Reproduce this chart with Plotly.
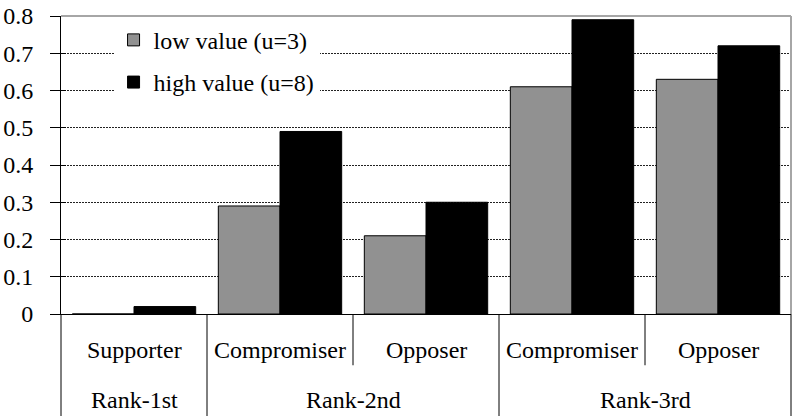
import plotly.graph_objects as go

outer = ["Rank-1st", "Rank-2nd", "Rank-2nd", "Rank-3rd", "Rank-3rd"]
inner = ["Supporter", "Compromiser", "Opposer", "Compromiser", "Opposer"]
low_vals = [0.0, 0.29, 0.21, 0.61, 0.63]
high_vals = [0.02, 0.49, 0.30, 0.79, 0.72]
series_names = ["low value (u=3)", "high value (u=8)"]
y_ticks = [0, 0.1, 0.2, 0.3, 0.4, 0.5, 0.6, 0.7, 0.8]

FONT = "Liberation Serif"
xs = list(range(len(inner)))

fig = go.Figure()
fig.add_trace(go.Bar(x=xs, y=low_vals, name=series_names[0], legendgroup="a",
                     marker=dict(color="#919191", line=dict(color="black", width=1))))
fig.add_trace(go.Bar(x=xs, y=high_vals, name=series_names[1], legendgroup="b",
                     marker=dict(color="black", line=dict(color="black", width=1))))
# invisible trace on overlay axis to carry inner ticks
fig.add_trace(go.Scatter(x=[xs[0]], y=[0], yaxis="y2", mode="markers",
                         marker=dict(opacity=0), showlegend=False, hoverinfo="skip"))

shapes = []
shapes.append(dict(type="line", xref="paper", yref="paper", x0=0, x1=1, y0=1, y1=1,
                   line=dict(color="#a6a6a6", width=2)))
shapes.append(dict(type="line", xref="paper", yref="paper", x0=1, x1=1, y0=0, y1=1,
                   line=dict(color="#a6a6a6", width=2)))
bottom = -0.36
short = -0.172
shapes.append(dict(type="line", xref="paper", yref="paper", x0=0, x1=0, y0=0, y1=bottom,
                   line=dict(color="black", width=1)))
shapes.append(dict(type="line", xref="paper", yref="paper", x0=1, x1=1, y0=0, y1=bottom,
                   line=dict(color="black", width=1)))
for i in range(len(inner) - 1):
    b = i + 0.5
    full = outer[i] != outer[i + 1]
    shapes.append(dict(type="line", xref="x", yref="paper", x0=b, x1=b, y0=0,
                       y1=bottom if full else short, line=dict(color="black", width=1)))

annotations = []
for i, lab in enumerate(inner):
    annotations.append(dict(x=i, y=-0.12, xref="x", yref="paper", text=lab, showarrow=False,
                            xanchor="center", yanchor="middle",
                            font=dict(family=FONT, size=24, color="black")))
groups = []
for i, o in enumerate(outer):
    if not groups or groups[-1][0] != o:
        groups.append([o, []])
    groups[-1][1].append(i)
for o, idx in groups:
    annotations.append(dict(x=sum(idx) / len(idx), y=-0.29, xref="x", yref="paper", text=o,
                            showarrow=False, xanchor="center", yanchor="middle",
                            font=dict(family=FONT, size=24, color="black")))

fig.update_layout(
    width=794, height=416,
    margin=dict(l=58, r=3, t=15, b=102),
    paper_bgcolor="white", plot_bgcolor="white",
    barmode="group", bargap=0.155, bargroupgap=0,
    font=dict(family=FONT, size=24, color="black"),
    showlegend=True,
    legend=dict(x=0.072, y=0.994, xanchor="left", yanchor="top", bgcolor="white",
                traceorder="grouped", tracegroupgap=8,
                font=dict(family=FONT, size=24, color="black")),
    xaxis=dict(range=[-0.5, 4.5], showticklabels=False, showgrid=False, zeroline=False,
               showline=True, linecolor="black", linewidth=1, ticks=""),
    yaxis=dict(range=[0, 0.8], tickvals=y_ticks, showgrid=True, gridcolor="#222",
               griddash="2px,1px", gridwidth=1, zeroline=False, showline=True,
               linecolor="black", linewidth=1, ticks="outside", ticklen=10,
               tickcolor="black", ticklabelstandoff=12,
               tickfont=dict(family=FONT, size=24, color="black")),
    yaxis2=dict(range=[0, 0.8], tickvals=y_ticks, overlaying="y", side="left",
                showgrid=False, zeroline=False, showline=False, showticklabels=False,
                ticks="inside", ticklen=5, tickcolor="black"),
    shapes=shapes,
    annotations=annotations,
)

fig.write_html("out.html", config={"displayModeBar": False},
               post_script="document.body.style.margin='0';")
